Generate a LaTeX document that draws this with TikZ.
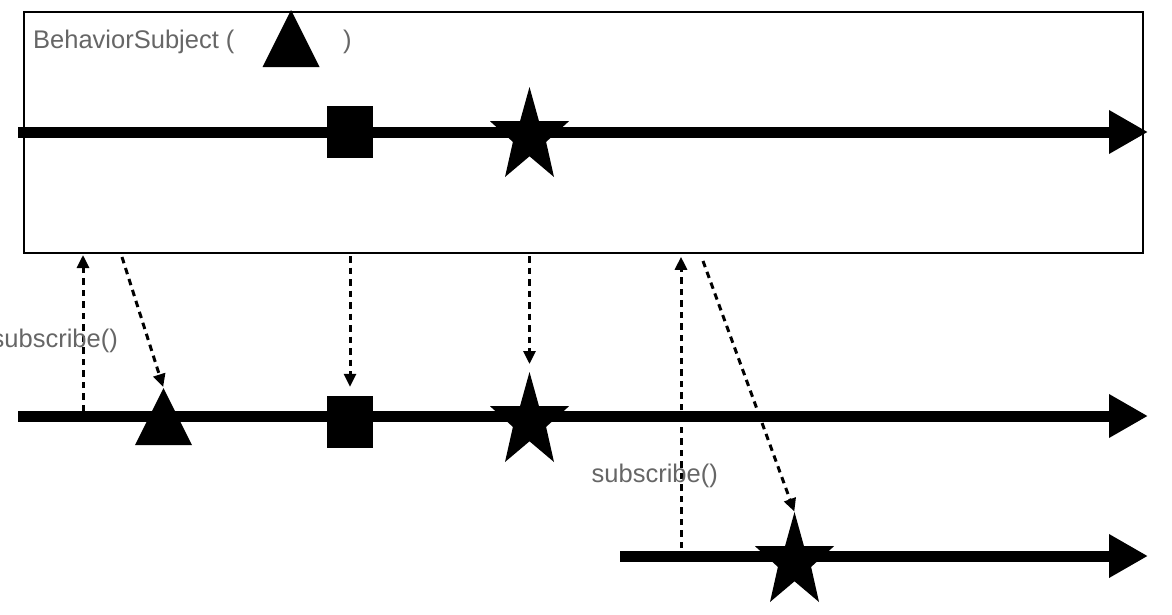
\documentclass[tikz,border=0pt]{standalone}
\usepackage{fontspec}
\setmainfont{Liberation Sans}
\usetikzlibrary{arrows.meta,positioning}
\definecolor{labelgray}{RGB}{102,102,102}

\begin{document}
\begin{tikzpicture}[
  x=1pt, y=-1pt,
  font=\fontsize{25.5}{30}\selectfont,
  frame/.style={rectangle, draw=black, line width=1.6pt, inner sep=0pt,
                minimum width=1119pt, minimum height=241pt},
  timeline/.style={line width=11pt, -{Triangle[length=39pt, width=41pt]}},
  flow/.style={line width=3pt, dash pattern=on 6.5pt off 5pt,
               -{Triangle[length=13pt, width=12pt]}},
  sqmark/.style={rectangle, fill=black, inner sep=0pt,
                 minimum width=46pt, minimum height=52pt},
  lbl/.style={text=labelgray, inner sep=0pt},
  starmark/.pic={
    \fill (-39.5,-10.8) -- (-9.5,-10.8) -- (0,-45) -- (9.5,-10.8) -- (39.5,-10.8)
      -- (16.6,9.9) -- (24.5,45) -- (0,24.3) -- (-24.5,45) -- (-16.6,9.9) -- cycle;
    \coordinate (-top) at (0,-45);
  },
  trimark/.pic={
    \fill (-28.5,28.5) -- (0,-28.5) -- (28.5,28.5) -- cycle;
    \coordinate (-top) at (0,-28.5);
  },
]
\useasboundingbox (0,0) rectangle (1172,614);

% subject box and its title
\node[frame] (box) at (583.5,132.5) {};
\node[lbl, anchor=base west] (title) at (33,48) {BehaviorSubject (};
\pic (titletri) at (291,38.5) {trimark};
\node[lbl, anchor=base west] (titleend) at (343,48) {)};

% time lines
\coordinate (srcA) at (18,132);   \coordinate (srcB) at (1148,132);
\coordinate (subA) at (18,416);   \coordinate (subB) at (1148,416);
\coordinate (lateA) at (620,556); \coordinate (lateB) at (1148,556);
\draw[timeline] (srcA) -- (srcB);
\draw[timeline] (subA) -- (subB);
\draw[timeline] (lateA) -- (lateB);

% values
\node[sqmark] (sqsrc) at (350,132) {};
\pic (starsrc) at (529.5,132) {starmark};
\pic (trisub) at (163.5,416.5) {trimark};
\node[sqmark] (sqsub) at (350,422) {};
\pic (starsub) at (529.5,417) {starmark};
\pic (starlate) at (794.5,557) {starmark};

% subscriptions and emissions
\coordinate (subscA) at (83,411);
\coordinate (subscB) at (681,548);
\coordinate (replayA) at (122,257);
\coordinate (replayB) at (703,261);

\draw[flow, shorten >=1.2pt] (subscA) -- (subscA |- box.south);
\draw[flow, shorten >=1pt] (replayA) -- (trisub-top);
\draw[flow, shorten <=2.2pt, shorten >=9pt] (sqsub.north |- box.south) -- (sqsub.north);
\draw[flow, shorten <=2.2pt, shorten >=8pt] (starsub-top |- box.south) -- (starsub-top);
\draw[flow, shorten >=3pt] (subscB) -- (subscB |- box.south);
\draw[flow, shorten >=0.5pt] (replayB) -- (starlate-top);

\node[lbl, anchor=base east] (subsclbl1) at (118,347) {subscribe()};
\node[lbl, anchor=base east] (subsclbl2) at (718,482) {subscribe()};

\end{tikzpicture}
\end{document}
